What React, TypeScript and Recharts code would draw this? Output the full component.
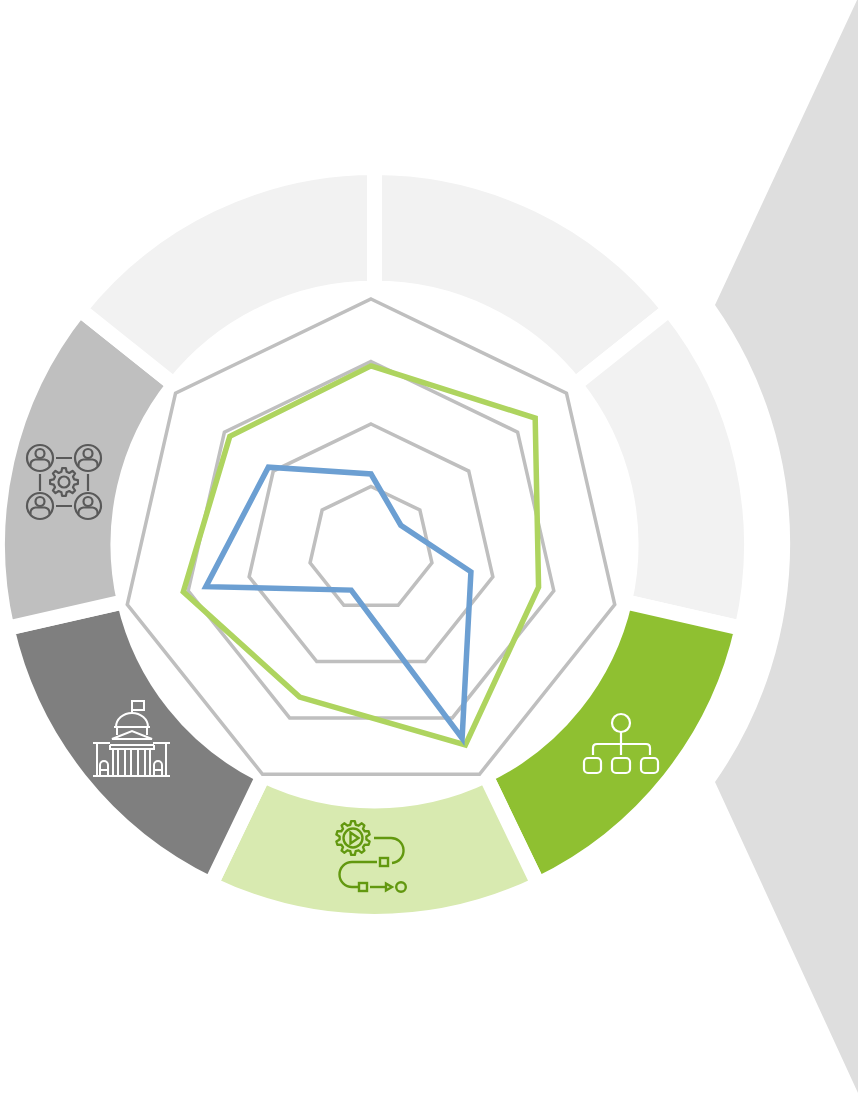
import { Cell, Pie, PieChart, PolarAngleAxis, PolarGrid, PolarRadiusAxis, Radar, RadarChart } from 'recharts'

const WIDTH = 858
const HEIGHT = 1095

const axes = ['A', 'B', 'C', 'D', 'E', 'F', 'G']
const greenValues = [2.93, 3.36, 2.75, 3.48, 2.63, 3.08, 2.89]
const blueValues = [1.2, 0.61, 1.64, 3.36, 0.73, 2.71, 2.1]
const segmentShare = [1, 1, 1, 1, 1, 1, 1]
const segmentColors = ['#f2f2f2', '#f2f2f2', '#8fc031', '#d8eab0', '#7f7f7f', '#bfbfbf', '#f2f2f2']

const radarData = axes.map((axis, i) => ({ axis, green: greenValues[i], blue: blueValues[i] }))
const ringData = axes.map((axis, i) => ({ axis, share: segmentShare[i] }))

const layer = { position: 'absolute', left: 0, top: 0 } as const

// toothed outline for the two gear icons
const gearPath = (cx: number, cy: number, outer: number, inner: number, teeth: number) => {
  const step = (Math.PI * 2) / teeth
  const points: string[] = []
  for (let i = 0; i < teeth; i++) {
    const a = i * step
    const corners: [number, number][] = [
      [inner, a - step * 0.32],
      [outer, a - step * 0.17],
      [outer, a + step * 0.17],
      [inner, a + step * 0.32],
    ]
    corners.forEach(([r, t]) => points.push(`${(cx + r * Math.sin(t)).toFixed(1)},${(cy - r * Math.cos(t)).toFixed(1)}`))
  }
  return `M${points.join('L')}Z`
}

const Person = ({ cx, cy }: { cx: number; cy: number }) => (
  <g>
    <circle cx={cx} cy={cy} r={13} />
    <circle cx={cx} cy={cy - 4.5} r={4.5} />
    <path d={`M${cx - 9.5} ${cy + 8.5}v-2q0 -4 5 -5h9q5 1 5 5v2`} />
  </g>
)

const PeopleIcon = () => (
  <g fill="none" stroke="#595959" strokeWidth={2.2}>
    <Person cx={40} cy={458} />
    <Person cx={88} cy={458} />
    <Person cx={40} cy={506} />
    <Person cx={88} cy={506} />
    <path d="M56 458H72M56 506H72M40 474V491M88 474V491" />
    <path d={gearPath(64, 482, 14, 10.5, 8)} strokeLinejoin="round" />
    <circle cx={64} cy={482} r={5.5} />
  </g>
)

const CapitolIcon = () => (
  <g fill="none" stroke="#fff" strokeWidth={2}>
    <path d="M93 776H170M93 743H110M153 743H170M97 743V776M166 743V776" />
    <path d="M132 714V701H144V710H132" />
    <path d="M116 727A16 14 0 0 1 148 727M114 727H150M117 727V735M147 727V735" />
    <path d="M112 739L132 731L152 739ZM110 745H154M110 745V749H154V745" />
    <path d="M113 749V776M118 749V776M125 749V776M131 749V776M138 749V776M145 749V776M150 749V776" />
    <path d="M100 776V765A4 4 0 0 1 108 765V776M100 770H108" />
    <path d="M154 776V765A4 4 0 0 1 162 765V776M154 770H162" />
  </g>
)

const ProcessIcon = () => (
  <g fill="none" stroke="#62980f" strokeWidth={2.4}>
    <path d={gearPath(353, 838, 17, 13.5, 10)} strokeLinejoin="round" />
    <circle cx={353} cy={838} r={9.5} />
    <path d="M350.5 832.5V843.5L358.5 838Z" />
    <path d="M374 838H390A12.5 12.5 0 0 1 392 863" />
    <rect x={380} y={858} width={8} height={8} />
    <path d="M377 862H352A12.5 12.5 0 0 0 352 887H358" />
    <rect x={359} y={883} width={8} height={8} />
    <path d="M370 887H386" />
    <path d="M386 883.5L392 887L386 890.5Z" />
    <circle cx={401} cy={887} r={4.8} />
  </g>
)

const OrgIcon = () => (
  <g fill="none" stroke="#fff" strokeWidth={2.2}>
    <circle cx={621} cy={723} r={9} />
    <path d="M621 732V755M593 755V748Q593 744 597 744H646Q650 744 650 748V755" />
    <rect x={584} y={758} width={17} height={15} rx={4} />
    <rect x={612} y={758} width={18} height={15} rx={4} />
    <rect x={641} y={758} width={17} height={15} rx={4} />
  </g>
)

export default function App() {
  return (
    <div style={{ ...layer, width: WIDTH, height: HEIGHT, background: '#fff', overflow: 'hidden' }}>
      <svg width={WIDTH} height={HEIGHT} style={layer}>
        <path d="M858 -2L715 305A416 416 0 0 1 715 782L858 1093Z" fill="#dedede" />
      </svg>

      <div style={layer}>
        {/* white stroke on the cells gives the parallel gaps between segments */}
        <PieChart width={WIDTH} height={HEIGHT} margin={{ top: 0, right: 0, bottom: 0, left: 0 }}>
          <Pie
            data={ringData}
            dataKey="share"
            nameKey="axis"
            cx={374.5}
            cy={544.5}
            innerRadius={256.5}
            outerRadius={377}
            startAngle={90}
            endAngle={-270}
            stroke="#fff"
            strokeWidth={15}
            isAnimationActive={false}
          >
            {ringData.map((row, i) => (
              <Cell key={row.axis} fill={segmentColors[i]} />
            ))}
          </Pie>
        </PieChart>
      </div>

      <div style={layer}>
        <RadarChart
          width={WIDTH}
          height={HEIGHT}
          cx={371}
          cy={549}
          outerRadius={250}
          data={radarData}
          margin={{ top: 0, right: 0, bottom: 0, left: 0 }}
        >
          <PolarGrid gridType="polygon" radialLines={false} stroke="#bfbfbf" strokeWidth={3.5} />
          <PolarAngleAxis dataKey="axis" tick={false} axisLine={false} />
          <PolarRadiusAxis domain={[0, 4]} tickCount={5} tick={false} axisLine={false} />
          <Radar dataKey="green" stroke="#aed45f" strokeWidth={5.5} fill="none" dot={false} isAnimationActive={false} />
          <Radar dataKey="blue" stroke="#6c9fd2" strokeWidth={5.5} fill="none" dot={false} isAnimationActive={false} />
        </RadarChart>
      </div>

      <svg width={WIDTH} height={HEIGHT} style={layer}>
        <PeopleIcon />
        <CapitolIcon />
        <ProcessIcon />
        <OrgIcon />
      </svg>
    </div>
  )
}
